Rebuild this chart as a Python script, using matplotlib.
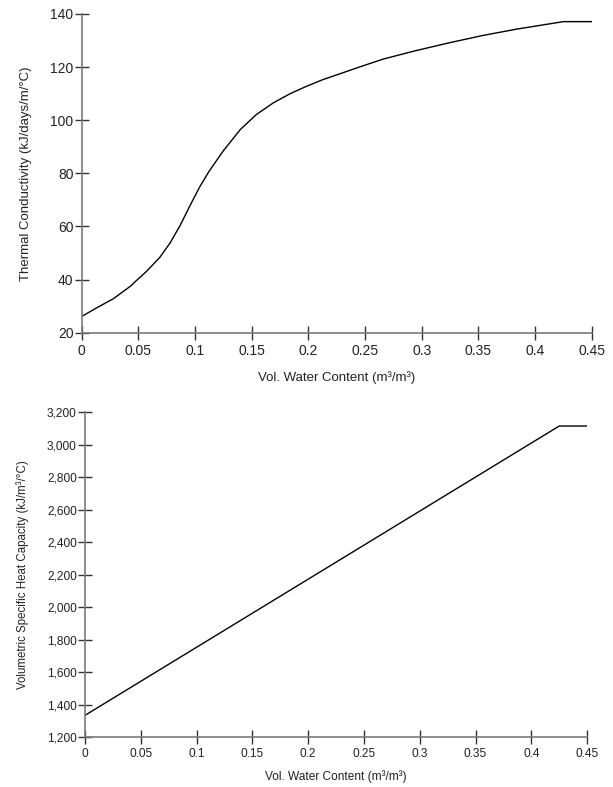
import numpy as np
import matplotlib
matplotlib.use("Agg")
import matplotlib.pyplot as plt

plt.rcParams['font.family'] = ['Liberation Sans', 'DejaVu Sans']

# thermal conductivity vs water content
wc_k = [0, 0.013, 0.028, 0.043, 0.05, 0.057, 0.069, 0.078, 0.087, 0.0955,
        0.104, 0.112, 0.125, 0.14, 0.154, 0.169, 0.184, 0.198, 0.213, 0.228,
        0.245, 0.266, 0.295, 0.325, 0.354, 0.384, 0.425, 0.45]
cond = [26.1, 29.3, 32.8, 37.5, 40.3, 43.0, 48.4, 53.8, 60.5, 67.8,
        74.8, 80.5, 88.5, 96.5, 102.1, 106.5, 110.0, 112.7, 115.3, 117.5,
        120.0, 123.0, 126.2, 129.2, 131.9, 134.3, 137.1, 137.1]

# volumetric specific heat capacity vs water content
wc_c = [0, 0.425, 0.45]
heat = [1335, 3115, 3115]

xticks = [0, 0.05, 0.1, 0.15, 0.2, 0.25, 0.3, 0.35, 0.4, 0.45]
xticklabels = ['0', '0.05', '0.1', '0.15', '0.2', '0.25', '0.3', '0.35', '0.4', '0.45']

fig = plt.figure(figsize=(6.13, 7.87), dpi=100)
ax1 = fig.add_axes([0.1333, 0.5773, 0.832, 0.405])
ax2 = fig.add_axes([0.1387, 0.0632, 0.819, 0.413])


def style(ax, fs):
    for s in ['top', 'right']:
        ax.spines[s].set_visible(False)
    for s in ['left', 'bottom']:
        ax.spines[s].set_color('#7a7a7a')
        ax.spines[s].set_linewidth(1.2)
    ax.tick_params(axis='both', direction='inout', length=10, width=1,
                   color='#333333', labelsize=fs, labelcolor='#222222')
    ax.tick_params(axis='y', pad=1)
    ax.tick_params(axis='x', pad=3)
    ax.set_xlim(0, 0.45)
    ax.set_xticks(xticks)
    ax.set_xticklabels(xticklabels)


ax1.plot(wc_k, cond, color='black', lw=1.0)
style(ax1, 10)
ax1.set_ylim(20, 140)
ax1.set_yticks(range(20, 141, 20))
ax1.set_xlabel('Vol. Water Content (m³/m³)', fontsize=9.5, labelpad=10, color='#222222')
ax1.set_ylabel('Thermal Conductivity (kJ/days/m/°C)', fontsize=9.5, labelpad=13, color='#222222')

ax2.plot(wc_c, heat, color='black', lw=1.0)
style(ax2, 8.6)
ax2.set_ylim(1200, 3200)
ax2.set_yticks(range(1200, 3201, 200))
ax2.set_yticklabels([f'{v:,}' for v in range(1200, 3201, 200)])
ax2.set_xlabel('Vol. Water Content (m³/m³)', fontsize=8.6, labelpad=7, color='#222222')
ax2.set_ylabel('Volumetric Specific Heat Capacity (kJ/m³/°C)', fontsize=8.3, labelpad=13, color='#222222')

fig.savefig('out.png', dpi=100)
